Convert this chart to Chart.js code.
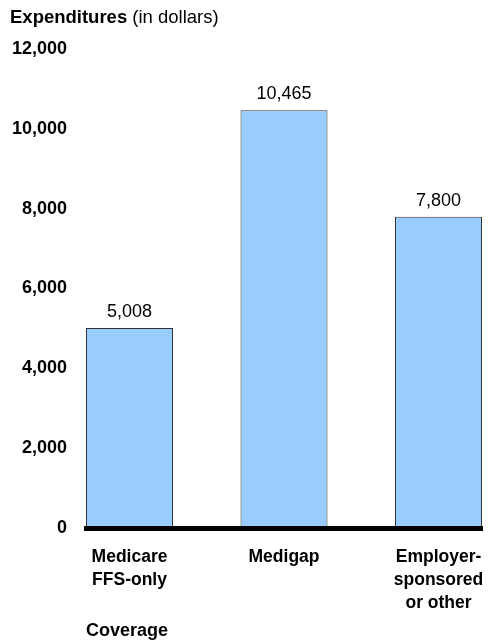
<!DOCTYPE html>
<html>
<head>
<meta charset="utf-8">
<script src="https://cdn.jsdelivr.net/npm/chart.js@4.4.1/dist/chart.umd.min.js"></script>
<style>
	html, body { margin: 0; padding: 0; background: #fff; }
	#wrap { width: 488px; height: 643px; }
</style>
</head>
<body>
<div id="wrap"><canvas id="costChart" width="488" height="643"></canvas></div>
<script>
// Datos del gráfico
const categories = [['Medicare', 'FFS-only'], ['Medigap'], ['Employer-', 'sponsored', 'or other']];
const expenditures = [5008, 10465, 7800];
const yTicks = [0, 2000, 4000, 6000, 8000, 10000, 12000];
const yTitle = 'Expenditures';
const yTitleUnit = ' (in dollars)';
const xTitle = 'Coverage';

const FONT = 'Arial, "Liberation Sans", sans-serif';
Chart.defaults.font.family = FONT;
Chart.defaults.color = '#000';

// Título con parte en negrita
const titlePlugin = {
	id: 'mixedTitle',
	afterDraw(chart) {
		const ctx = chart.ctx;
		ctx.save();
		ctx.fillStyle = '#000';
		ctx.textBaseline = 'middle';
		ctx.font = 'bold 18.5px ' + FONT;
		ctx.fillText(yTitle, 10, 18);
		const w = ctx.measureText(yTitle).width;
		ctx.font = '18.5px ' + FONT;
		ctx.fillText(yTitleUnit, 10 + w, 18);
		ctx.restore();
	},
};

// Etiquetas de valor encima de las barras
const valueLabels = {
	id: 'valueLabels',
	afterDatasetsDraw(chart) {
		const ctx = chart.ctx;
		const meta = chart.getDatasetMeta(0);
		ctx.save();
		ctx.fillStyle = '#000';
		ctx.font = '18px ' + FONT;
		ctx.textAlign = 'center';
		ctx.textBaseline = 'alphabetic';
		meta.data.forEach((bar, i) => {
			ctx.fillText(expenditures[i].toLocaleString('en-US'), bar.x, bar.y - 11);
		});
		ctx.restore();
	},
};

new Chart(document.getElementById('costChart').getContext('2d'), {
	type: 'bar',
	data: {
		datasets: [
			{
				data: expenditures.map((v, i) => ({ x: i, y: v })),
				backgroundColor: '#99CCFF',
				borderColor: '#333',
				borderWidth: 1,
				categoryPercentage: 1,
				barPercentage: 0.563,
			},
		],
	},
	options: {
		responsive: false,
		animation: false,
		layout: { padding: { left: 10, right: 6, top: 49, bottom: 0 } },
		plugins: {
			legend: { display: false },
			tooltip: { enabled: false },
		},
		scales: {
			x: {
				type: 'linear',
				offset: false,
				min: -0.2816,
				max: 2.2816,
				afterBuildTicks: (axis) => {
					axis.ticks = categories.map((_, i) => ({ value: i }));
				},
				afterFit: (axis) => {
					axis.height = 115;
					axis.paddingLeft = 0;
					axis.paddingRight = 0;
				},
				grid: { display: false, drawTicks: false, offset: false },
				border: { display: true, color: '#000', width: 5, z: 1 },
				ticks: {
					autoSkip: false,
					maxRotation: 0,
					padding: 18,
					font: { size: 17.5, weight: 'bold', lineHeight: 1.314 },
					callback: (v) => categories[v],
				},
				title: {
					display: true,
					text: xTitle,
					align: 'start',
					font: { size: 18, weight: 'bold' },
					padding: { top: 10, bottom: 1 },
				},
			},
			y: {
				min: 0,
				max: 12000,
				afterBuildTicks: (axis) => {
					axis.ticks = yTicks.map((v) => ({ value: v }));
				},
				afterFit: (axis) => {
					axis.width = 76;
				},
				grid: { display: false, drawTicks: false },
				border: { display: false },
				ticks: {
					padding: 19,
					font: { size: 18, weight: 'bold' },
					callback: (v) => v.toLocaleString('en-US'),
				},
			},
		},
	},
	plugins: [titlePlugin, valueLabels],
});
</script>
</body>
</html>
